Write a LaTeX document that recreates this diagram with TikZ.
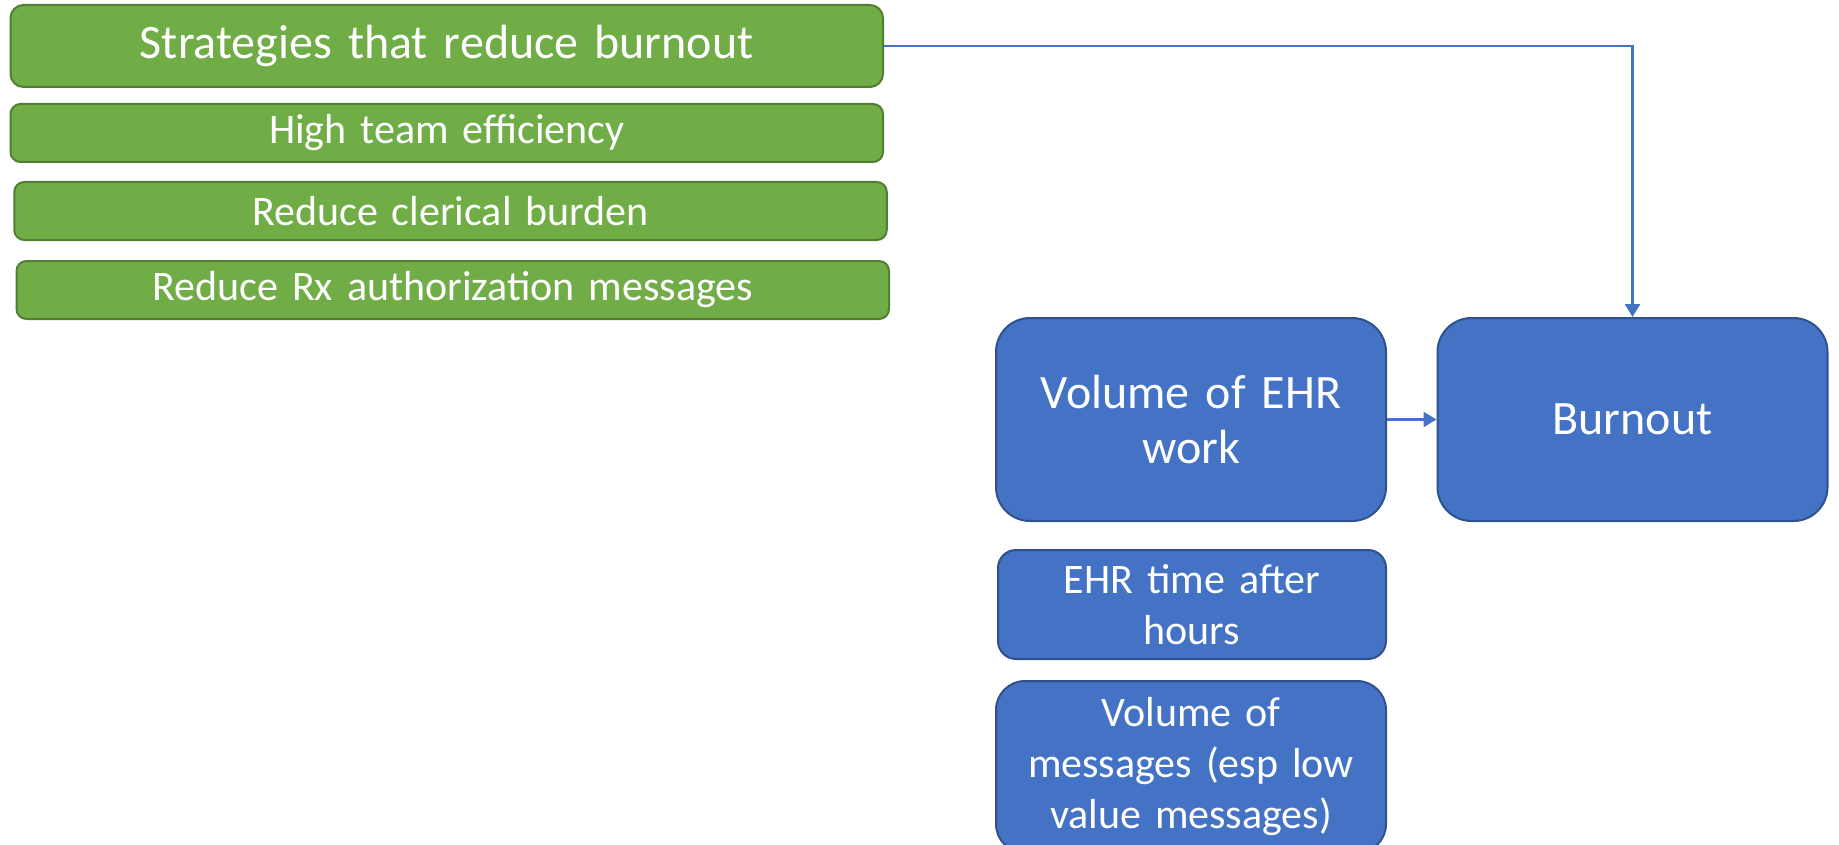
\documentclass[tikz,border=0pt]{standalone}
\usepackage{fontspec}
\setmainfont{Carlito}[WordSpace=0.7]
\usetikzlibrary{arrows.meta}
\definecolor{gfill}{HTML}{70AD47}
\definecolor{gline}{HTML}{507E32}
\definecolor{bfill}{HTML}{4472C4}
\definecolor{bline}{HTML}{2F528F}
\begin{document}
\begin{tikzpicture}[x=1pt,y=-1pt,
  box/.style={draw, line width=2pt, text=white, align=center, inner sep=0pt},
  gbox/.style={box, fill=gfill, draw=gline},
  bbox/.style={box, fill=bfill, draw=bline},
  bigfont/.style={font=\fontsize{48}{55}\selectfont},
  smallfont/.style={font=\fontsize{42}{51}\selectfont},
  conn/.style={draw=bfill, line width=2.5pt, -{Triangle[width=15pt,length=13pt]}}]
\useasboundingbox (0,0) rectangle (1839,845);
\clip (0,0) rectangle (1839,845);
% green strategy boxes
\node[gbox, bigfont, rounded corners=13pt, minimum width=872.5pt, minimum height=82pt, text width=850pt] (strat) at (446.75,46) {\raisebox{-2pt}{Strategies that reduce burnout}};
\node[gbox, smallfont, rounded corners=10pt, minimum width=872.5pt, minimum height=58pt, text width=850pt] (high) at (446.75,133) {High team efficiency};
\node[gbox, smallfont, rounded corners=10pt, minimum width=872.5pt, minimum height=58pt, text width=850pt] (cler) at (450.5,211) {Reduce clerical burden};
\node[gbox, smallfont, rounded corners=10pt, minimum width=872.5pt, minimum height=58pt, text width=850pt] (rx) at (452.75,290) {Reduce Rx authorization messages};
% blue boxes
\node[bbox, bigfont, rounded corners=34pt, minimum width=390pt, minimum height=203pt, text width=370pt] (vol) at (1191,419.5) {Volume of EHR\\work};
\node[bbox, bigfont, rounded corners=34pt, minimum width=390pt, minimum height=203pt, text width=370pt] (burn) at (1632.5,419.5) {Burnout};
\node[bbox, smallfont, rounded corners=18pt, minimum width=388pt, minimum height=109pt, text width=370pt] (ehrt) at (1192,604.5) {EHR time after\\hours};
\node[bbox, smallfont, rounded corners=29pt, minimum width=390pt, minimum height=172pt, text width=370pt] (msgs) at (1191,767) {Volume of\\messages (esp low\\value messages)};
% connectors
\draw[conn] (strat.east) -| (burn.north);
\draw[conn] (vol.east) -- (burn.west);
\end{tikzpicture}
\end{document}
